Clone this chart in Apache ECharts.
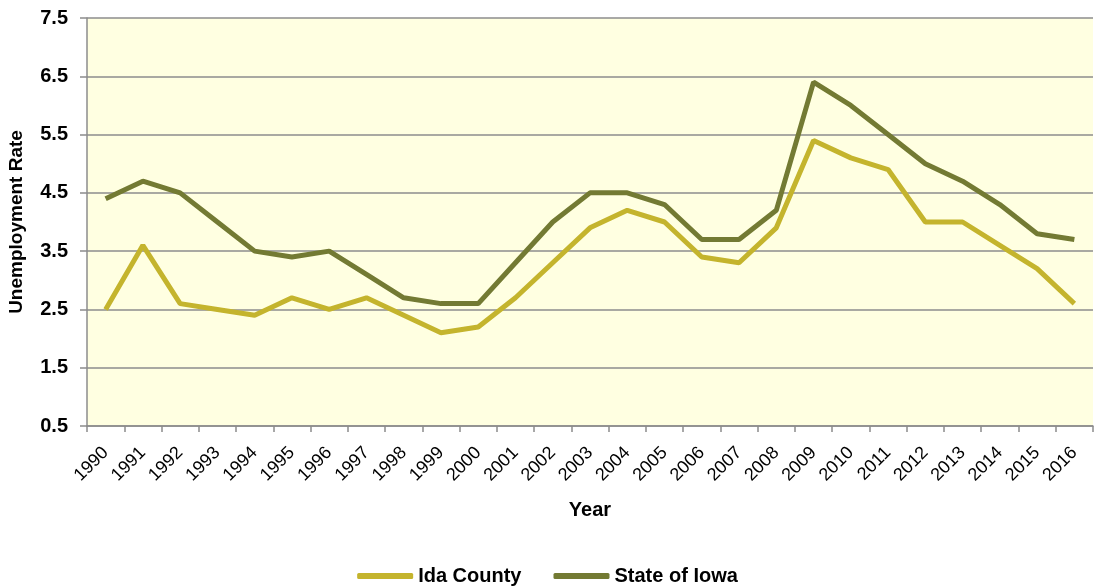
<!DOCTYPE html>
<html><head><meta charset="utf-8">
<script src="https://cdn.jsdelivr.net/npm/echarts@6/dist/echarts.min.js"></script>
<style>html,body{margin:0;padding:0;background:#fff}#c{width:1095px;height:588px}</style>
</head><body><div id="c"></div>
<script>
const years = ['1990','1991','1992','1993','1994','1995','1996','1997','1998','1999','2000','2001','2002','2003','2004','2005','2006','2007','2008','2009','2010','2011','2012','2013','2014','2015','2016'];
const idaCounty = [2.5,3.6,2.6,2.5,2.4,2.7,2.5,2.7,2.4,2.1,2.2,2.7,3.3,3.9,4.2,4.0,3.4,3.3,3.9,5.4,5.1,4.9,4.0,4.0,3.6,3.2,2.6];
const stateOfIowa = [4.4,4.7,4.5,4.0,3.5,3.4,3.5,3.1,2.7,2.6,2.6,3.3,4.0,4.5,4.5,4.3,3.7,3.7,4.2,6.4,6.0,5.5,5.0,4.7,4.3,3.8,3.7];
const yMin = 0.5, yMax = 7.5, yStep = 1;

const chart = echarts.init(document.getElementById('c'));
const font = '"Liberation Sans", Arial, sans-serif';
chart.setOption({
  animation: false,
  grid: {left: 87, right: 2, top: 18, bottom: 162, backgroundColor: '#ffffe1', show: true, borderWidth: 0, outerBoundsMode: 'none', containLabel: false},
  legend: {
    top: 561, left: 'center', itemWidth: 56, itemHeight: 6, itemGap: 32,
    icon: 'roundRect',
    textStyle: {fontFamily: font, fontWeight: 'bold', fontSize: 20, color: '#000'},
    data: ['Ida County', 'State of Iowa']
  },
  xAxis: {
    type: 'category', data: years, boundaryGap: true,
    name: 'Year', nameLocation: 'middle', nameGap: 74,
    nameTextStyle: {fontFamily: font, fontWeight: 'bold', fontSize: 20, color: '#000'},
    axisLine: {lineStyle: {color: '#8c8c8c', width: 1.5}},
    axisTick: {show: true, length: 6, lineStyle: {color: '#8c8c8c', width: 1.5}},
    axisLabel: {rotate: 45, fontFamily: font, fontSize: 18, color: '#000', margin: 24, interval: 0}
  },
  yAxis: {
    type: 'value', min: yMin, max: yMax, interval: yStep,
    name: 'Unemployment Rate', nameLocation: 'middle', nameGap: 61,
    nameTextStyle: {fontFamily: font, fontWeight: 'bold', fontSize: 19, color: '#000'},
    axisLine: {show: true, lineStyle: {color: '#8c8c8c', width: 1.5}},
    axisTick: {show: true, length: 7, lineStyle: {color: '#8c8c8c', width: 1.5}},
    axisLabel: {fontFamily: font, fontWeight: 'bold', fontSize: 20, color: '#000', margin: 19, formatter: v => v.toFixed(1)},
    splitLine: {lineStyle: {color: '#8c8c8c', width: 1.5}}
  },
  series: [
    {name: 'Ida County', type: 'line', data: idaCounty, showSymbol: false, symbol: 'none',
     lineStyle: {color: '#c4b42d', width: 5}, itemStyle: {color: '#c4b42d'}},
    {name: 'State of Iowa', type: 'line', data: stateOfIowa, showSymbol: false, symbol: 'none',
     lineStyle: {color: '#737a33', width: 5}, itemStyle: {color: '#737a33'}}
  ]
});
</script></body></html>
